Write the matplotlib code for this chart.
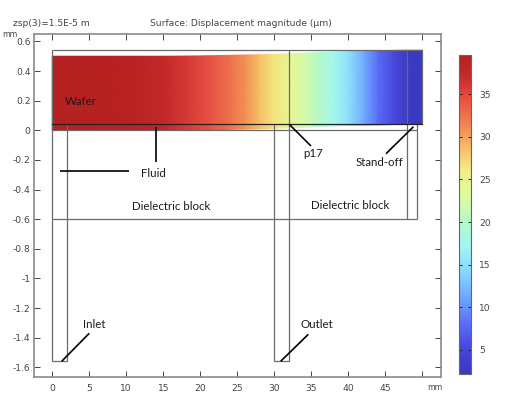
import numpy as np
from matplotlib import pyplot as plt
from matplotlib.colors import LinearSegmentedColormap, Normalize
from matplotlib.cm import ScalarMappable

# wafer surface, read along x (mm)
wafer_x = [0, 6, 12, 15, 18, 21, 24, 26, 28, 30, 32, 34, 36, 38, 40, 42, 44, 46, 48, 50]
wafer_bottom = [0, 0, 0, 0, 0.001, 0.003, 0.006, 0.008, 0.010, 0.013, 0.017, 0.021, 0.025, 0.029, 0.032, 0.035, 0.037, 0.039, 0.04, 0.04]
wafer_thickness = 0.5
displacement = [39.6, 39.3, 38.6, 37.5, 36, 34.5, 32.5, 31, 28.5, 26.5, 24.5, 22.5, 20, 17.5, 15, 11.5, 8, 5.5, 3, 2.5]

cbar_ticks = [5, 10, 15, 20, 25, 30, 35]
x_ticks = [0, 5, 10, 15, 20, 25, 30, 35, 40, 45, 50]
x_labels = ['0', '5', '10', '15', '20', '25', '30', '35', '40', '45', '']
y_ticks = [-1.6, -1.4, -1.2, -1, -0.8, -0.6, -0.4, -0.2, 0, 0.2, 0.4, 0.6]
y_labels = ['-1.6', '-1.4', '-1.2', '-1', '-0.8', '-0.6', '-0.4', '-0.2', '0', '0.2', '0.4', '0.6']

# geometry outlines
outlines = [
    ([0, 0], [-1.56, 0.54]),
    ([2, 2], [-1.56, 0.04]),
    ([30, 30], [-1.56, 0.04]),
    ([32, 32], [-1.56, 0.54]),
    ([48, 48], [-0.6, 0.54]),
    ([49.3, 49.3], [-0.6, 0.04]),
    ([0, 49.3], [0, 0]),
    ([0, 49.3], [-0.6, -0.6]),
    ([0, 2], [-1.56, -1.56]),
    ([30, 32], [-1.56, -1.56]),
    ([0, 50], [0.54, 0.54]),
    ([50, 50], [0.04, 0.54]),
]
wafer_line = ([0, 50], [0.04, 0.04])

# callout lines
callouts = [
    ([14, 14], [0.022, -0.216]),
    ([1.08, 10.4], [-0.277, -0.277]),
    ([32.03, 34.96], [0.04, -0.106]),
    ([48.8, 45.1], [0.024, -0.158]),
    ([1.27, 5], [-1.559, -1.37]),
    ([30.86, 34.6], [-1.559, -1.377]),
]
labels = [
    ('Wafer', 3.9, 0.195),
    ('Fluid', 13.7, -0.29),
    ('p17', 35.2, -0.155),
    ('Stand-off', 44.2, -0.22),
    ('Dielectric block', 16, -0.517),
    ('Dielectric block', 40.2, -0.51),
    ('Inlet', 5.7, -1.313),
    ('Outlet', 35.8, -1.313),
]

cmap_vals = [2.2, 5, 8, 11, 14, 17, 20, 23, 26, 29, 32, 35, 37, 39.6]
cmap_cols = ['#3a38bc', '#4445dc', '#5a6cf5', '#6ea6ff', '#85d5fd', '#a0f5f5', '#b5f9c8',
             '#dcfca0', '#f3ee85', '#f5b862', '#f07a4f', '#e4473f', '#c62a2c', '#b52020']

vmin, vmax = cmap_vals[0], cmap_vals[-1]
cmap = LinearSegmentedColormap.from_list(
    'rainbowlight', [((v - vmin) / (vmax - vmin), c) for v, c in zip(cmap_vals, cmap_cols)], N=512)
norm = Normalize(vmin, vmax)

W, H = 519, 396
fig = plt.figure(figsize=(W / 100, H / 100), dpi=100)
ax = fig.add_axes([34 / W, 1 - 377 / H, (441.3 - 34) / W, (377 - 33.7) / H])

xs = np.array(wafer_x, dtype=float)
bot = np.array(wafer_bottom)
X = np.vstack([xs, xs])
Y = np.vstack([bot, bot + wafer_thickness])
C = np.vstack([displacement, displacement])
ax.pcolormesh(X, Y, C, shading='gouraud', cmap=cmap, norm=norm, zorder=1)

for lx, ly in outlines:
    ax.plot(lx, ly, color='#6a6a6a', lw=0.9, zorder=2, solid_capstyle='butt')
ax.plot(wafer_line[0], wafer_line[1], color='#222222', lw=0.9, zorder=3)
for lx, ly in callouts:
    ax.plot(lx, ly, color='black', lw=1.2, zorder=4, solid_capstyle='butt')

for txt, tx, ty in labels:
    ax.text(tx, ty, txt, family='Lato', fontsize=8.3, color='#1a1a1a', ha='center', va='center', zorder=5)

ax.set_xlim(-2.47, 52.57)
ax.set_ylim(-1.665, 0.652)
ax.set_xticks(x_ticks)
ax.set_xticklabels(x_labels)
ax.set_yticks(y_ticks)
ax.set_yticklabels(y_labels)
ax.tick_params(direction='in', top=True, right=True, length=4, width=0.7, color='#444444',
               labelsize=6.6, labelcolor='#444444')
ax.tick_params(axis='y', pad=2.5)
ax.tick_params(axis='x', pad=5)
for sp in ax.spines.values():
    sp.set_color('#8a8a8a')
    sp.set_linewidth(1.2)

fig.text(13 / W, 1 - 24 / H, 'zsp(3)=1.5E-5 m', fontsize=6.6, color='#444444', va='center')
fig.text(150 / W, 1 - 24 / H, 'Surface: Displacement magnitude (µm)', fontsize=6.6, color='#444444', va='center')
fig.text(2 / W, 1 - 34.5 / H, 'mm', fontsize=5.6, color='#444444', va='center')
fig.text(427 / W, 1 - 387 / H, 'mm', fontsize=5.6, color='#444444', va='center')

cax = fig.add_axes([458.5 / W, 1 - 373.7 / H, 12.5 / W, (373.7 - 55) / H])
cb = fig.colorbar(ScalarMappable(norm=norm, cmap=cmap), cax=cax)
cb.set_ticks(cbar_ticks)
cax.tick_params(direction='in', left=True, right=True, length=2.2, width=0.7, color='#222222',
                labelsize=6.6, labelcolor='#444444', pad=6)
cb.outline.set_edgecolor('#666666')
cb.outline.set_linewidth(0.8)

fig.savefig('out.png', dpi=100)
